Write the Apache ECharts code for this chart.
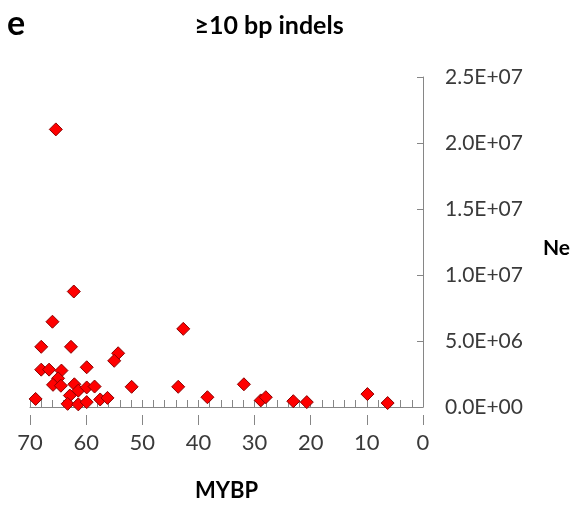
<!DOCTYPE html>
<html><head><meta charset="utf-8">
<script src="https://cdn.jsdelivr.net/npm/echarts@6/dist/echarts.min.js"></script>
<style>html,body{margin:0;padding:0;background:#fff}#c{width:575px;height:507px}</style>
</head><body><div id="c"></div>
<script>
const panelLabel = "e";
const chartTitle = "≥10 bp indels";
const xAxisName = "MYBP";
const yAxisName = "Ne";
const mybp = [65.4,62.2,66.0,68.0,62.7,42.7,54.3,55.0,68.0,66.6,64.4,59.9,65.0,65.9,64.5,62.1,61.4,59.9,58.5,51.9,43.6,69.0,62.9,63.3,61.4,59.9,57.5,56.2,38.4,31.9,28.9,28.0,23.1,20.7,9.9,6.3];
const ne = [21030000,8750000,6460000,4560000,4560000,5920000,4070000,3500000,2830000,2830000,2760000,3010000,2170000,1680000,1610000,1720000,1240000,1480000,1550000,1530000,1530000,610000,870000,240000,200000,370000,570000,690000,740000,1720000,500000,740000,440000,370000,980000,300000];
const xTicks = [0,10,20,30,40,50,60,70];
const yTicks = [0,5e6,1e7,1.5e7,2e7,2.5e7];

const pts = mybp.map((x,i)=>[x, ne[i]]);
function fmtE(v){
  if (v === 0) return "0.0E+00";
  const s = v.toExponential(1).toUpperCase();
  const m = s.match(/^(-?[\d.]+)E([+-])(\d+)$/);
  return m[1] + "E" + m[2] + (m[3].length<2 ? "0"+m[3] : m[3]);
}
const font = "Lato";
const axisGray = "#868686";
const labelColor = "#3a3a3a";
const gridTop = 77, gridBottom = 92, H = 507;
const chart = echarts.init(document.getElementById('c'));
chart.setOption({
  animation:false,
  backgroundColor:"#fff",
  grid:{left:30,right:152,top:gridTop,bottom:gridBottom,containLabel:false},
  graphic:[
    {type:'text',x:7,y:24,style:{text:panelLabel,font:"bold 34px Lato",fill:"#000",textAlign:'left',textVerticalAlign:'middle'}},
    {type:'text',x:269,y:26,style:{text:chartTitle,font:"bold 25px Lato",fill:"#000",textAlign:'center',textVerticalAlign:'middle'}},
    {type:'text',x:543,y:248,style:{text:yAxisName,font:"bold 21px Lato",fill:"#000",textAlign:'left',textVerticalAlign:'middle'}}
  ],
  xAxis:[{
    type:'value',position:'bottom',min:xTicks[0],max:xTicks[xTicks.length-1],interval:10,inverse:true,
    name:xAxisName,nameLocation:'middle',nameGap:73,
    nameTextStyle:{fontFamily:font,fontWeight:'bold',fontSize:22,color:"#000"},
    axisLine:{show:true,onZero:false,lineStyle:{color:axisGray,width:1}},
    axisTick:{show:true,inside:true,length:7,lineStyle:{color:axisGray,width:1}},
    minorTick:{show:true,splitNumber:5,length:7,lineStyle:{color:axisGray,width:1}},
    axisLabel:{fontFamily:font,fontSize:22,color:labelColor,margin:25},
    splitLine:{show:false},minorSplitLine:{show:false}
  },{
    type:'value',position:'top',offset:-(H-gridTop-gridBottom),min:xTicks[0],max:xTicks[xTicks.length-1],interval:10,inverse:true,
    axisLine:{show:false},
    axisTick:{show:true,inside:true,length:10,lineStyle:{color:axisGray,width:1}},
    axisLabel:{show:false},splitLine:{show:false}
  }],
  yAxis:{
    type:'value',position:'right',min:yTicks[0],max:yTicks[yTicks.length-1],interval:5e6,
    axisLine:{show:true,onZero:false,lineStyle:{color:axisGray,width:1}},
    axisTick:{show:true,inside:true,length:6,lineStyle:{color:axisGray}},
    axisLabel:{fontFamily:font,fontSize:21,color:labelColor,margin:22,formatter:fmtE},
    splitLine:{show:false}
  },
  series:[{
    type:'scatter',xAxisIndex:0,data:pts,symbol:'diamond',symbolSize:13,
    itemStyle:{color:"#ff0000",borderColor:"#8b0000",borderWidth:1,opacity:1}
  }]
});
</script></body></html>
